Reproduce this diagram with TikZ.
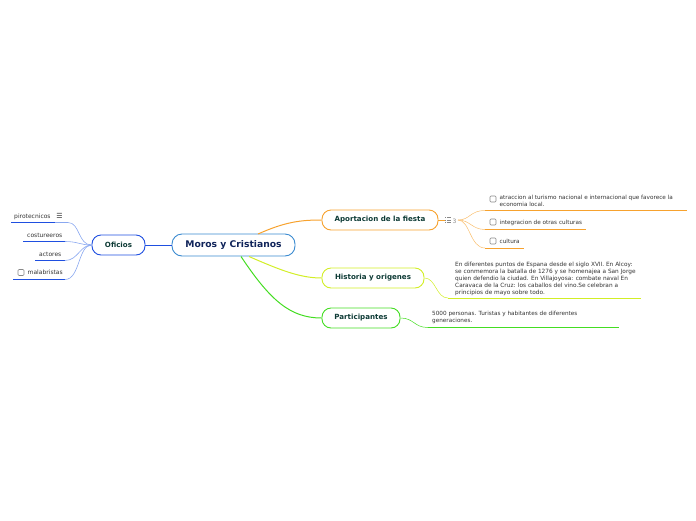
\documentclass[tikz,border=0pt]{standalone}
\usepackage{fontspec}
\setmainfont{DejaVu Sans}
\definecolor{cblue}{HTML}{3A8AD0}
\definecolor{oblue}{HTML}{1F4FE0}
\definecolor{lblue}{HTML}{8AA8F0}
\definecolor{corange}{HTML}{F7A22E}
\definecolor{cyell}{HTML}{D2EE26}
\definecolor{cgreen}{HTML}{44DD22}
\definecolor{ttext}{HTML}{0E3B36}
\definecolor{ntext}{HTML}{10245A}
\definecolor{gtext}{HTML}{333333}
\definecolor{cbox}{HTML}{888888}
\tikzset{
  topic/.style={draw, line width=0.9pt, rounded corners=9pt, fill=white, text=ttext, font=\bfseries\fontsize{7.1}{8}\selectfont, inner sep=0pt},
  leaf/.style={text=gtext, font=\fontsize{5.7}{7}\selectfont, inner sep=0pt, anchor=west, align=left},
  chk/.style={draw=cbox, line width=0.6pt, rounded corners=1pt, minimum size=6pt, inner sep=0pt},
}
\begin{document}
\begin{tikzpicture}[x=1pt,y=-1pt]
\useasboundingbox (0,0) rectangle (696,520);
% central
\node[topic, draw=cblue, text=ntext, font=\bfseries\fontsize{9.2}{10}\selectfont, minimum width=123pt, minimum height=22pt, rounded corners=10pt] (central) at (233.5,245) {Moros y Cristianos};
\node[topic, draw=oblue, minimum width=53pt, minimum height=20pt] (oficios) at (118.5,245) {Oficios};
\node[topic, draw=corange, minimum width=116pt, minimum height=20pt] (aport) at (380,220) {Aportacion de la fiesta};
\node[topic, draw=cyell, minimum width=102pt, minimum height=20pt] (hist) at (373,278) {Historia y origenes};
\node[topic, draw=cgreen, minimum width=78pt, minimum height=20pt] (part) at (361,318) {Participantes};

% main connectors
\draw[oblue, line width=0.8pt] (central.west) -- (oficios.east);
\coordinate (c1) at (258,234);
\coordinate (c2) at (249,256.5);
\coordinate (c3) at (241,256.5);
\draw[corange, line width=1pt] (c1) .. controls (285,222) and (300,220) .. (aport.west);
\draw[cyell, line width=1pt] (c2) .. controls (280,270) and (300,278) .. (hist.west);
\draw[cgreen, line width=1pt] (c3) .. controls (270,300) and (290,318) .. (part.west);

% left leaves
\node[leaf, anchor=base west, font=\fontsize{6}{7}\selectfont] (l1) at (14,218) {pirotecnicos};
\node[anchor=base, inner sep=0pt, font=\fontsize{7}{8}\selectfont, text=gtext] (l1i) at (59.5,218.5) {☰};
\node[leaf, anchor=base west, font=\fontsize{6}{7}\selectfont] (l2) at (27,237) {costureeros};
\node[leaf, anchor=base west, font=\fontsize{6}{7}\selectfont] (l3) at (39,256) {actores};
\node[chk] (l4c) at (21,272.5) {};
\node[leaf, anchor=base west, font=\fontsize{6}{7}\selectfont] (l4) at (27.5,274.5) {malabristas};
\coordinate (u1a) at (11,222.5); \coordinate (u1b) at (55,222.5);
\coordinate (u2a) at (23,241.5); \coordinate (u2b) at (65,241.5);
\coordinate (u3a) at (35,260.5); \coordinate (u3b) at (65,260.5);
\coordinate (u4a) at (13,279.5); \coordinate (u4b) at (65,279.5);
\foreach \a/\b in {u1a/u1b,u2a/u2b,u3a/u3b,u4a/u4b}{\draw[oblue, line width=1pt] (\a) -- (\b);}
\draw[lblue, line width=0.6pt] (u1b) -- (68,222.5) .. controls (80,222.5) and (78,245) .. (oficios.west);
\draw[lblue, line width=0.6pt] (u2b) .. controls (78,241.5) and (80,245) .. (oficios.west);
\draw[lblue, line width=0.6pt] (u3b) .. controls (78,260.5) and (80,245) .. (oficios.west);
\draw[lblue, line width=0.6pt] (u4b) .. controls (80,279.5) and (78,245) .. (oficios.west);

% Aportacion leaves
\coordinate (ai) at (445,220);
\draw[cbox, line width=0.6pt] (445,217.5) -- (446,217.5) (447,217.5) -- (451,217.5)
  (445,220) -- (446,220) (447,220) -- (451,220)
  (445,222.5) -- (446,222.5) (447,222.5) -- (451,222.5);
\node[inner sep=0pt, text=cbox, font=\fontsize{6}{7}\selectfont] (acount) at (454.5,221) {3};
\coordinate (asrc) at (458,220);
\draw[corange, line width=0.5pt] (aport.east) -- (ai);
\node[chk] (a1c) at (493,199) {};
\node[leaf] (a1) at (499.5,200.5) {atraccion al turismo nacional e internacional que favorece la\\economia local.};
\node[chk] (a2c) at (493,222) {};
\node[leaf] (a2) at (499.5,222.5) {integracion de otras culturas};
\node[chk] (a3c) at (493,241) {};
\node[leaf] (a3) at (499.5,241.5) {cultura};
\coordinate (a1a) at (485,210.5); \coordinate (a1b) at (687,210.5);
\coordinate (a2a) at (485,229.5); \coordinate (a2b) at (586,229.5);
\coordinate (a3a) at (485,248); \coordinate (a3b) at (524,248);
\foreach \a/\b in {a1a/a1b,a2a/a2b,a3a/a3b}{\draw[corange, line width=1pt] (\a) -- (\b);}
\draw[corange!70, line width=0.5pt] (asrc) .. controls (470,220) and (470,210.5) .. (a1a);
\draw[corange!70, line width=0.5pt] (asrc) .. controls (470,220) and (472,229.5) .. (a2a);
\draw[corange!70, line width=0.5pt] (asrc) .. controls (470,220) and (470,248) .. (a3a);

% Historia leaf
\node[leaf, font=\fontsize{5.8}{7}\selectfont] (h1) at (455,279) {En diferentes puntos de Espana desde el siglo XVII. En Alcoy:\\se conmemora la batalla de 1276 y se homenajea a San Jorge\\quien defendio la ciudad. En Villajoyosa: combate naval En\\Caravaca de la Cruz: los caballos del vino.Se celebran a\\principios de mayo sobre todo.};
\coordinate (h1a) at (448,298); \coordinate (h1b) at (641,298);
\draw[cyell, line width=1pt] (h1a) -- (h1b);
\draw[cyell, line width=0.5pt] (hist.east) .. controls (436,278) and (436,298) .. (h1a);

% Participantes leaf
\node[leaf, font=\fontsize{5.7}{7}\selectfont] (p1) at (432,317.5) {5000 personas. Turistas y habitantes de diferentes\\generaciones.};
\coordinate (p1a) at (428,327.5); \coordinate (p1b) at (619,327.5);
\draw[cgreen, line width=1pt] (p1a) -- (p1b);
\draw[cgreen, line width=0.5pt] (part.east) .. controls (414,318) and (414,327.5) .. (p1a);
\end{tikzpicture}
\end{document}
